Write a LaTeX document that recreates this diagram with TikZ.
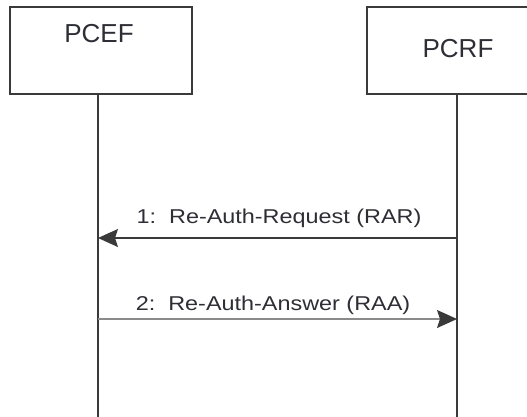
\documentclass[tikz,border=0pt]{standalone}
\usepackage{graphicx}
\usepackage{fontspec}
\setmainfont{Liberation Sans}
\usetikzlibrary{positioning,calc,arrows.meta}
\definecolor{seqLine}{HTML}{3A3A3A}
\definecolor{seqLight}{HTML}{8A8A8A}
\definecolor{seqText}{HTML}{2E2E36}
\newcommand{\msgtext}[1]{\scalebox{1.17}[1]{#1}}
\tikzset{
  ent box/.style={
    rectangle, draw=seqLine, line width=1.6pt, fill=white,
    minimum width=182pt, minimum height=87pt, inner sep=0pt,
  },
  ent name/.style={
    font=\fontsize{26}{28}\selectfont, text=seqText, inner sep=0pt,
  },
  life line/.style={draw=seqLine, line width=1.6pt},
  msg arrow/.style={
    -{Stealth[length=20pt, width=18pt, inset=3pt, color=seqLine]},
    line width=1.4pt, color=seqLine,
  },
  msg label/.style={
    font=\fontsize{20}{22}\selectfont, text=seqText, inner sep=0pt,
    anchor=base,
  },
}

\begin{document}
\begin{tikzpicture}[x=1pt, y=1pt]
\clip (0,0) rectangle (527,-416);
\fill[white] (0,0) rectangle (527,-416);

% --- ENTITIES ---
\node[ent box] (pcef) at (101,-50.5) {};
\node[ent box] (pcrf) at (458,-50.5) {};
\node[ent name] (pcefName) at (99,-34) {PCEF};
\node[ent name] (pcrfName) at (458,-49) {PCRF};

% --- LIFELINES ---
\coordinate (pcefTop) at (98,-94);
\coordinate (pcrfTop) at (457,-94);
\coordinate (pcefEnd) at (98,-420);
\coordinate (pcrfEnd) at (457,-420);
\draw[life line] (pcefTop) -- (pcefEnd);
\draw[life line] (pcrfTop) -- (pcrfEnd);

% --- MESSAGES ---
\coordinate (rarFrom) at (457,-238);
\coordinate (rarTo)   at (98,-238);
\coordinate (raaFrom) at (98,-319);
\coordinate (raaTo)   at (457,-319);

\draw[msg arrow] (rarFrom) -- (rarTo);
\node[msg label] (rarLabel) at (279,-223) {\msgtext{1:\ \ Re-Auth-Request (RAR)}};

\draw[msg arrow, color=seqLight] (raaFrom) -- (raaTo);
\node[msg label] (raaLabel) at (273,-310) {\msgtext{2:\ \ Re-Auth-Answer (RAA)}};

\end{tikzpicture}
\end{document}
